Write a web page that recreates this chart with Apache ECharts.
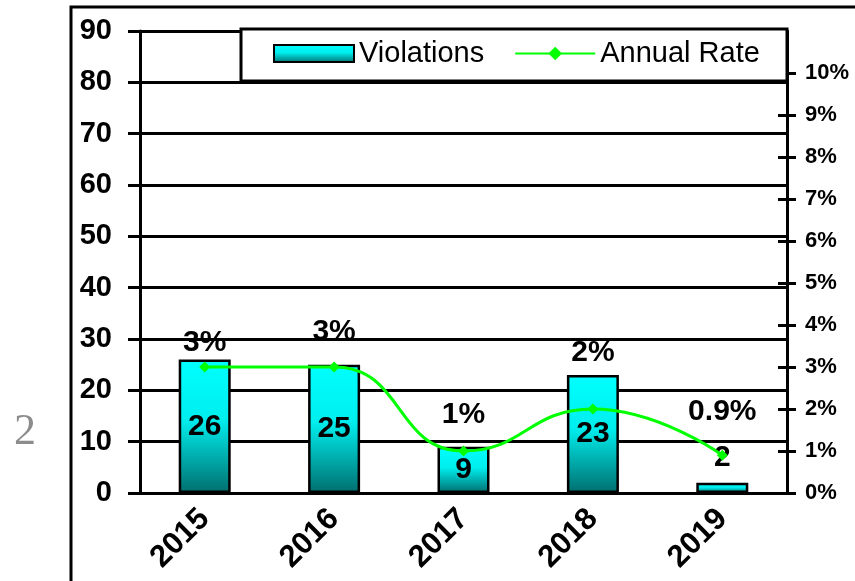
<!DOCTYPE html>
<html>
<head>
<meta charset="utf-8">
<script src="https://cdn.jsdelivr.net/npm/echarts@6/dist/echarts.min.js"></script>
<style>
  html, body { margin: 0; padding: 0; background: #fff; }
  #chart { width: 855px; height: 581px; }
</style>
</head>
<body>
<div id="chart"></div>
<script>
// chart data
var years = ['2015', '2016', '2017', '2018', '2019']
var violations = [26, 25, 9, 23, 2]
var annualRate = [3, 3, 1, 2, 0.9]
var rateLabels = ['3%', '3%', '1%', '2%', '0.9%']
var rateTicks = [0, 1, 2, 3, 4, 5, 6, 7, 8, 9, 10]

// how far each rate label sits above its point (px)
var rateLabelLift = [24, 35, 36, 56, 43]

var font = 'Arial, "Liberation Sans", sans-serif'

var chart = echarts.init(document.getElementById('chart'))

var barGradient = new echarts.graphic.LinearGradient(0, 0, 0, 1, [
  { offset: 0, color: '#00ffff' },
  { offset: 0.45, color: '#00eeee' },
  { offset: 1, color: '#006e6e' }
])

var barData = violations.map(function (v) {
  return {
    value: v,
    label: v < 5 ? { position: 'top', distance: 10 } : { position: 'inside' }
  }
})

var lineData = annualRate.map(function (v, i) {
  return {
    value: v,
    label: {
      show: true,
      position: 'inside',
      offset: [0, -rateLabelLift[i]],
      formatter: rateLabels[i]
    }
  }
})

var option = {
  animation: false,
  backgroundColor: '#fff',
  grid: { left: 140, right: 68, top: 31, bottom: 88 },
  legend: {
    data: [
      { name: 'Violations', icon: 'rect' },
      { name: 'Annual Rate' }
    ],
    left: 273,
    top: 39,
    padding: 0,
    itemWidth: 80,
    itemHeight: 17,
    itemGap: 30,
    z: 6,
    textStyle: { fontFamily: font, fontSize: 29, color: '#000' }
  },
  graphic: [
    {
      type: 'polyline',
      shape: { points: [[71, 600], [71, 7], [870, 7]] },
      style: { stroke: '#000', lineWidth: 3, fill: null },
      z: 1
    },
    {
      type: 'rect',
      shape: { x: 241, y: 29, width: 546, height: 52 },
      style: { fill: '#fff', stroke: '#000', lineWidth: 3 },
      z: 5
    },
    {
      type: 'text',
      left: 14,
      top: 410,
      style: {
        text: '2',
        fill: '#8c8c8c',
        font: '44px "Liberation Serif", "DejaVu Serif", serif'
      }
    }
  ],
  xAxis: [
    {
      type: 'category',
      data: years,
      axisLine: { lineStyle: { color: '#000', width: 3 } },
      axisTick: { length: 7, lineStyle: { color: '#000', width: 2 } },
      axisLabel: {
        rotate: 45,
        margin: 21,
        color: '#000',
        fontFamily: font,
        fontSize: 31,
        fontWeight: 'bold'
      }
    },
    {
      type: 'category',
      data: years,
      position: 'bottom',
      axisLine: { show: false },
      axisTick: { inside: true, length: 7, lineStyle: { color: '#000', width: 2 } },
      axisLabel: { show: false }
    }
  ],
  yAxis: [
    {
      type: 'value',
      min: 0,
      max: 90,
      interval: 10,
      axisLine: { show: true, lineStyle: { color: '#000', width: 3 } },
      axisTick: { show: true, length: 12, lineStyle: { color: '#000', width: 3 } },
      splitLine: { lineStyle: { color: '#000', width: 3 } },
      axisLabel: {
        margin: 28,
        color: '#000',
        fontFamily: font,
        fontSize: 29,
        fontWeight: 'bold'
      }
    },
    {
      type: 'value',
      position: 'right',
      min: 0,
      max: 11,
      interval: 1,
      axisLine: { show: true, lineStyle: { color: '#000', width: 3 } },
      axisTick: {
        show: true,
        length: 9,
        customValues: rateTicks,
        lineStyle: { color: '#000', width: 3 }
      },
      splitLine: { show: false },
      axisLabel: {
        margin: 18,
        customValues: rateTicks,
        formatter: '{value}%',
        color: '#000',
        fontFamily: font,
        fontSize: 22,
        fontWeight: 'bold'
      }
    },
    {
      type: 'value',
      position: 'right',
      min: 0,
      max: 11,
      interval: 1,
      axisLine: { show: false },
      axisTick: {
        show: true,
        inside: true,
        length: 9,
        customValues: rateTicks,
        lineStyle: { color: '#000', width: 3 }
      },
      splitLine: { show: false },
      axisLabel: { show: false }
    }
  ],
  series: [
    {
      name: 'Violations',
      type: 'bar',
      barWidth: 52,
      data: barData,
      itemStyle: { color: barGradient, borderColor: '#000', borderWidth: 2.5 },
      label: {
        show: true,
        color: '#000',
        fontFamily: font,
        fontSize: 30,
        fontWeight: 'bold'
      },
      z: 2
    },
    {
      name: 'Annual Rate',
      type: 'line',
      yAxisIndex: 1,
      smooth: true,
      data: lineData,
      symbol: 'diamond',
      symbolSize: 11,
      itemStyle: { color: '#00ff00' },
      lineStyle: { color: '#00ff00', width: 3 },
      label: {
        color: '#000',
        fontFamily: font,
        fontSize: 30,
        fontWeight: 'bold'
      },
      z: 3
    }
  ]
}

chart.setOption(option)
</script>
</body>
</html>
